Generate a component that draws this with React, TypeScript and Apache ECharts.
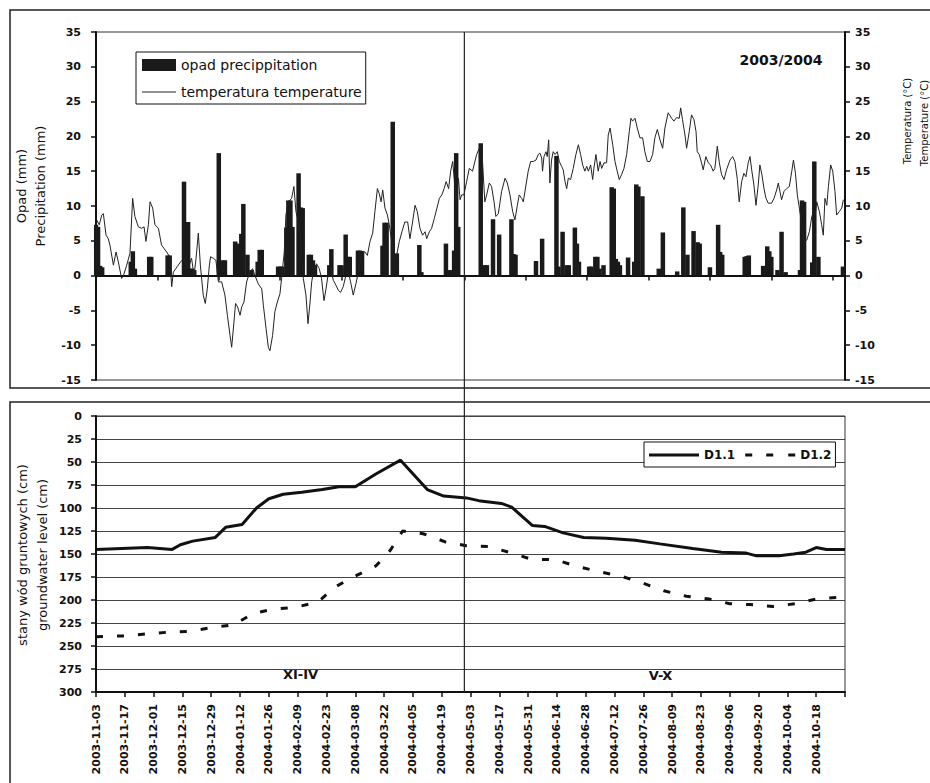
import React, { useEffect, useRef } from 'react';
import * as echarts from 'echarts';

// ---------- Top panel: days counted from 2003-11-01 ----------
const tempDay = [
  0.3, 1.6, 2.8, 3.6, 4.9, 6.0, 6.8, 8.5, 9.8, 10.9, 12.5, 13.4, 15.0, 16.6, 17.9, 19.0, 20.7, 22.3, 23.5, 24.4,
  25.6, 26.4, 27.7, 28.8, 30.5, 32.0, 34.5, 36.0, 37.0, 37.8, 39.7, 41.4, 43.0, 45.0, 46.7, 47.9, 48.9, 50.0, 51.0, 52.4,
  53.4, 54.4, 55.4, 56.0, 57.3, 58.6, 59.8, 61.4, 63.0, 64.2, 65.5, 66.3, 67.4, 68.2, 69.2, 70.4, 71.2, 72.3, 73.6, 75.2,
  76.5, 77.7, 79.3, 81.0, 81.8, 83.1, 84.2, 85.0, 86.3, 87.4, 88.6, 89.9, 91.0, 92.0, 92.8, 94.0, 95.6, 96.7, 97.7, 98.9,
  100.0, 101.3, 102.6, 103.6, 104.6, 105.4, 106.5, 107.8, 109.1, 110.2, 111.4, 112.4, 113.5, 114.7, 116.0, 117.3, 118.4, 119.5, 120.8, 122.1,
  123.3, 124.4, 125.7, 127.0, 128.2, 129.8, 131.4, 132.6, 133.9, 135.2, 136.3, 137.5, 138.4, 139.3, 140.1, 141.2, 142.4, 143.3, 144.5, 145.6,
  146.9, 148.2, 149.5, 150.9, 152.3, 153.4, 154.7, 155.9, 157.0, 158.3, 159.6, 160.8, 161.6, 162.9, 164.0, 165.3, 166.6, 167.8, 169.0, 170.1,
  171.1, 172.3, 173.3, 174.3, 175.0, 175.9, 177.1, 177.9, 178.7, 179.8, 181.1, 182.4, 184.0, 186.0, 187.3, 188.4, 190.0, 190.9, 192.2, 193.3,
  194.5, 195.4, 196.6, 198.2, 199.9, 201.0, 202.3, 203.6, 204.7, 205.9, 206.8, 208.0, 208.8, 210.1, 211.2, 212.4, 213.7, 215.0, 216.1, 216.9,
  217.8, 218.2, 218.9, 219.9, 220.5, 221.2, 221.8, 222.6, 223.4, 224.3, 225.4, 226.4, 227.5, 228.3, 229.2, 230.0, 230.8, 231.9, 233.2, 234.5,
  235.7, 236.8, 237.8, 238.9, 239.8, 240.6, 241.7, 242.7, 243.3, 244.3, 245.4, 246.3, 247.1, 248.2, 249.5, 250.3, 251.2, 252.5, 253.6, 254.7,
  255.7, 256.8, 258.0, 259.3, 260.6, 261.4, 262.2, 263.4, 264.5, 265.8, 267.1, 268.2, 269.4, 270.7, 272.0, 273.1, 274.3, 275.6, 276.9, 278.0,
  279.6, 281.3, 282.4, 283.7, 285.0, 285.7, 286.6, 287.8, 288.6, 289.9, 291.0, 292.2, 293.2, 293.8, 294.8, 295.9, 296.7, 298.0, 299.2, 300.3,
  301.6, 302.4, 303.6, 304.6, 305.7, 306.9, 308.1, 309.8, 311.1, 312.2, 313.4, 314.3, 315.5, 316.6, 317.6, 318.7, 319.6, 320.4, 321.5, 322.5,
  323.6, 324.4, 325.4, 326.4, 327.4, 328.5, 330.1, 331.3, 332.6, 333.4, 334.2, 335.0, 336.2, 337.5, 338.8, 340.0, 340.8, 341.8, 342.7, 343.7,
  344.9, 346.0, 347.3, 348.6, 349.8, 350.6, 351.4, 352.2, 353.5, 354.6, 355.4, 356.2, 357.1, 357.9, 359.0, 360.0, 361.1, 361.9, 363.2, 364.4,
  365.2,
];
const tempC = [
  8.0, 7.3, 8.7, 8.9, 5.8, 5.3, 4.4, 1.5, 3.4, 2.0, -0.4, 0, 1.5, 3.2, 11.1, 8.5, 7.0, 6.8, 7.0, 4.9,
  7.3, 10.6, 9.7, 7.3, 6.8, 4.4, 3.4, 2.7, -1.6, 0.5, 1.3, 2.0, 2.5, 1.0, 2.5, 0, 2.5, 6.1, 1.5, -2.8,
  -4.0, -1.9, 1.5, 2.7, 2.5, 2.2, -0.9, -0.9, -2.8, -5.7, -8.6, -10.3, -6.7, -4.0, -4.5, -5.7, -4.5, -3.8, -0.9, 0.5,
  1.0, 0, -1.2, -1.9, -4.3, -7.6, -10.3, -10.8, -8.6, -5.2, -3.8, -2.6, 0.5, 3.4, 8.7, 10.6, 11.1, 12.8, 9.2, 7.7,
  4.9, -0.4, -2.8, -6.9, -3.8, -0.9, 1.0, 1.7, 1.0, -0.4, -3.6, -1.9, 0.3, 1.0, -0.7, -1.4, -2.1, -2.4, -1.6, 0,
  0.5, -0.9, -2.8, -1.2, 0.5, 3.4, 3.4, 2.9, 4.9, 6.1, 9.2, 12.5, 11.8, 10.6, 12.3, 9.7, 8.7, 7.3, 4.9, 2.5,
  2.9, 4.9, 6.3, 7.7, 7.7, 5.3, 7.7, 10.1, 9.2, 6.8, 5.8, 6.3, 5.3, 6.3, 6.8, 8.2, 9.7, 11.1, 11.6, 12.5,
  13.5, 12.5, 15.0, 16.4, 14.0, 10.6, 14.0, 10.9, 11.6, 11.6, 13.5, 15.4, 15.0, 17.4, 18.3, 18.8, 10.6, 11.6, 13.3, 12.8,
  10.6, 8.5, 8.9, 12.1, 14.0, 13.3, 11.6, 9.2, 8.0, 10.1, 11.6, 11.1, 10.6, 13.0, 15.0, 16.4, 16.4, 16.6, 17.4, 17.6,
  16.9, 15.0, 17.1, 17.8, 17.1, 19.5, 13.3, 16.6, 17.8, 17.4, 17.8, 16.4, 15.7, 15.2, 13.5, 12.5, 14.0, 13.8, 15.4, 17.4,
  18.8, 17.4, 15.9, 15.0, 15.7, 15.0, 15.9, 13.8, 15.4, 17.4, 15.0, 16.4, 15.4, 16.2, 16.2, 20.2, 21.2, 18.8, 16.4, 15.0,
  13.8, 14.5, 15.4, 17.4, 20.7, 22.6, 22.2, 22.6, 21.2, 19.8, 19.8, 17.8, 16.4, 16.4, 17.4, 19.8, 21.0, 19.5, 18.3, 21.2,
  23.4, 22.6, 22.2, 22.7, 22.6, 24.1, 22.4, 20.2, 18.3, 20.7, 23.1, 22.4, 20.7, 17.8, 17.4, 16.2, 15.2, 17.1, 16.2, 15.9,
  15.0, 15.4, 18.6, 16.2, 14.5, 13.8, 15.2, 16.6, 17.1, 16.4, 13.8, 10.6, 13.5, 14.7, 14.2, 16.2, 17.1, 15.2, 13.0, 10.1,
  13.0, 15.9, 14.5, 12.5, 11.1, 10.4, 10.4, 11.1, 12.3, 13.3, 12.1, 10.9, 12.1, 12.5, 12.8, 15.0, 16.6, 14.7, 11.6, 9.7,
  7.3, 4.9, 5.1, 6.3, 8.5, 9.2, 8.7, 10.6, 9.2, 7.3, 5.8, 11.1, 10.1, 12.8, 15.9, 15.0, 12.1, 8.7, 9.2, 9.7,
  10.9,
];
const rainDay = [
  0, 1, 2, 3, 17, 18, 19, 26, 27, 35, 36, 43, 45, 46, 47, 48, 60, 62, 63, 68,
  69, 70, 71, 72, 74, 76, 79, 80, 81, 89, 90, 91, 93, 94, 95, 96, 99, 100, 101, 104,
  105, 106, 107, 114, 115, 119, 120, 122, 123, 124, 128, 129, 130, 140, 141, 142, 145, 147, 158, 159,
  171, 173, 175, 176, 177, 188, 189, 190, 191, 194, 197, 203, 204, 205, 215, 218, 225, 226, 228, 230,
  231, 234, 235, 236, 241, 242, 244, 245, 246, 248, 252, 253, 254, 255, 256, 260, 263, 264, 265, 267,
  275, 277, 284, 287, 289, 292, 294, 295, 300, 304, 305, 306, 317, 318, 319, 326, 328, 329, 330, 333,
  335, 337, 344, 345, 346, 350, 351, 353, 365,
];
const rainMm = [
  7.3, 7.0, 1.4, 1.2, 2.0, 3.5, 1.0, 2.7, 2.7, 2.9, 2.9, 13.5, 7.7, 1.0, 1.0, 0.8, 17.6, 2.2, 2.2, 4.9,
  4.6, 4.5, 6.0, 10.3, 3.0, 0.8, 2.0, 3.7, 3.7, 1.3, 1.3, 1.3, 6.9, 10.8, 10.8, 7.0, 14.7, 9.8, 9.7, 3.0,
  3.0, 2.2, 1.5, 1.5, 3.8, 1.5, 1.5, 5.9, 2.7, 2.7, 3.6, 3.6, 3.5, 4.3, 7.6, 7.6, 22.1, 3.2, 4.4, 0.5,
  4.6, 0.8, 3.6, 17.6, 7.0, 19.0, 1.4, 1.5, 1.5, 8.1, 5.9, 8.1, 3.1, 3.0, 2.1, 5.3, 17.2, 1.3, 6.3, 1.5,
  1.5, 6.9, 4.6, 2.0, 1.3, 1.3, 2.7, 2.7, 1.0, 1.5, 12.7, 12.5, 2.4, 2.0, 1.5, 2.6, 2.0, 13.1, 12.8, 11.4,
  1.0, 6.2, 0.6, 9.8, 3.0, 6.4, 4.8, 4.6, 1.2, 7.3, 3.4, 3.0, 2.7, 2.8, 2.9, 1.4, 4.2, 3.5, 2.7, 0.8,
  6.3, 0.5, 0.8, 10.8, 10.6, 1.9, 16.4, 2.7, 1.3,
];

// ---------- Bottom panel: groundwater levels ----------
const d11Dates = [
  '2003-11-03', '2003-11-28', '2003-12-10', '2003-12-14', '2003-12-20', '2003-12-31', '2004-01-05', '2004-01-13',
  '2004-01-20', '2004-01-26', '2004-02-02', '2004-02-11', '2004-02-21', '2004-02-29', '2004-03-08', '2004-03-18',
  '2004-03-30', '2004-04-12', '2004-04-20', '2004-05-01', '2004-05-07', '2004-05-18', '2004-05-23', '2004-06-02',
  '2004-06-08', '2004-06-17', '2004-06-27', '2004-07-08', '2004-07-22', '2004-08-03', '2004-08-19', '2004-09-02',
  '2004-09-14', '2004-09-19', '2004-09-30', '2004-10-07', '2004-10-13', '2004-10-18', '2004-10-23', '2004-11-01',
];
const d11Cm = [
  145, 143, 145, 140, 136, 132, 121, 118, 100, 90, 85, 83, 80, 77, 77, 63,
  48, 80, 87, 89, 92, 95, 99, 119, 120, 127, 132, 133, 135, 139, 144, 148,
  149, 152, 152, 150, 148, 143, 145, 145,
];
const d12Dates = [
  '2003-11-03', '2003-11-16', '2003-11-27', '2003-12-08', '2003-12-19', '2003-12-29', '2004-01-09', '2004-01-18',
  '2004-01-28', '2004-02-08', '2004-02-19', '2004-02-27', '2004-03-08', '2004-03-18', '2004-03-25', '2004-03-31',
  '2004-04-10', '2004-04-21', '2004-05-01', '2004-05-12', '2004-05-23', '2004-06-02', '2004-06-13', '2004-06-23',
  '2004-07-04', '2004-07-15', '2004-07-25', '2004-08-05', '2004-08-16', '2004-08-27', '2004-09-06', '2004-09-16',
  '2004-09-27', '2004-10-08', '2004-10-18', '2004-10-29', '2004-11-01',
];
const d12Cm = [
  240, 239, 237, 235, 234, 230, 227, 215, 210, 208, 202, 186, 174, 163, 146, 125,
  128, 137, 141, 142, 149, 156, 156, 163, 169, 174, 181, 190, 196, 199, 204, 205,
  207, 204, 199, 197, 197,
];
const groundTickLabels = [
  '2003-11-03', '2003-11-17', '2003-12-01', '2003-12-15', '2003-12-29', '2004-01-12', '2004-01-26',
  '2004-02-09', '2004-02-23', '2004-03-08', '2004-03-22', '2004-04-05', '2004-04-19', '2004-05-03',
  '2004-05-17', '2004-05-31', '2004-06-14', '2004-06-28', '2004-07-12', '2004-07-26', '2004-08-09',
  '2004-08-23', '2004-09-06', '2004-09-20', '2004-10-04', '2004-10-18',
];

const FONT = 'DejaVu Sans';
const INK = '#111';

function daysSince(start: string, d: string): number {
  const [y1, m1, a1] = start.split('-').map(Number);
  const [y2, m2, a2] = d.split('-').map(Number);
  return Math.round((Date.UTC(y2, m2 - 1, a2) - Date.UTC(y1, m1 - 1, a1)) / 86400000);
}

export default function App() {
  const ref = useRef<HTMLDivElement>(null);

  useEffect(() => {
    if (!ref.current) return;
    const chart = echarts.init(ref.current, undefined, { renderer: 'svg' });

    const tickLabel = { color: INK, fontFamily: FONT, fontWeight: 'bold' as const, fontSize: 11 };
    const boldLine = { show: true, onZero: false, lineStyle: { color: INK, width: 2 } };

    const option: any = {
      animation: false,
      backgroundColor: '#fff',
      grid: [
        { left: 96, top: 32, width: 749, height: 348, show: true, borderColor: '#333', borderWidth: 1, containLabel: false },
        { left: 96, top: 416, width: 749, height: 276, show: true, borderColor: '#333', borderWidth: 1, containLabel: false },
      ],
      legend: [
        {
          data: [
            { name: 'opad precippitation', icon: 'rect' },
            { name: 'temperatura temperature', icon: 'path://M0,0h34v1h-34z' },
          ],
          orient: 'vertical',
          left: 136,
          top: 52,
          padding: [6, 4, 5, 6],
          itemGap: 13,
          itemWidth: 34,
          itemHeight: 12,
          borderColor: INK,
          borderWidth: 1,
          backgroundColor: '#fff',
          textStyle: { color: INK, fontFamily: FONT, fontSize: 14 },
        },
        {
          data: [
            { name: 'D1.1', icon: 'path://M0,0h50v3h-50z' },
            { name: 'D1.2', icon: 'path://M0,0h7v3h-7zM21,0h7v3h-7zM43,0h7v3h-7z' },
          ],
          orient: 'horizontal',
          left: 644,
          top: 442,
          padding: [7, 4, 6, 5],
          itemGap: 10,
          itemWidth: 50,
          itemHeight: 12,
          borderColor: INK,
          borderWidth: 1,
          backgroundColor: '#fff',
          textStyle: { color: INK, fontFamily: FONT, fontSize: 12, fontWeight: 'bold' },
        },
      ],
      xAxis: [
        {
          type: 'value',
          gridIndex: 0,
          min: 0,
          max: 366,
          interval: 30,
          axisLine: { show: true, onZero: true, onZeroAxisIndex: 0, lineStyle: { color: INK, width: 2 } },
          axisTick: { show: true, length: 5, lineStyle: { color: INK, width: 1.5 } },
          axisLabel: { show: false },
          splitLine: { show: false },
        },
        {
          type: 'value',
          gridIndex: 1,
          min: 0,
          max: 364,
          interval: 14,
          axisLine: boldLine,
          axisTick: { show: true, length: 5, lineStyle: { color: INK, width: 1.5 } },
          axisLabel: {
            ...tickLabel,
            rotate: 90,
            margin: 12,
            formatter: (v: number) => groundTickLabels[Math.round(v / 14)] ?? '',
          },
          splitLine: { show: false },
        },
      ],
      yAxis: [
        {
          type: 'value',
          gridIndex: 0,
          min: -15,
          max: 35,
          interval: 5,
          axisLine: boldLine,
          axisTick: { show: true, length: 5, lineStyle: { color: INK, width: 1.5 } },
          axisLabel: { ...tickLabel, margin: 15 },
          splitLine: { show: false },
        },
        {
          type: 'value',
          gridIndex: 0,
          position: 'right',
          min: -15,
          max: 35,
          interval: 5,
          axisLine: boldLine,
          axisTick: { show: true, length: 5, lineStyle: { color: INK, width: 1.5 } },
          axisLabel: { ...tickLabel, margin: 10 },
          splitLine: { show: false },
        },
        {
          type: 'value',
          gridIndex: 1,
          inverse: true,
          min: 0,
          max: 300,
          interval: 25,
          axisLine: boldLine,
          axisTick: { show: true, length: 5, lineStyle: { color: INK, width: 1.5 } },
          axisLabel: { ...tickLabel, margin: 14 },
          splitLine: { show: true, lineStyle: { color: '#444', width: 1 } },
        },
      ],
      series: [
        {
          name: 'opad precippitation',
          type: 'bar',
          xAxisIndex: 0,
          yAxisIndex: 0,
          barWidth: 4.5,
          itemStyle: { color: '#1a1a1a' },
          data: rainDay.map((d, i) => [d, rainMm[i]]),
        },
        {
          name: 'temperatura temperature',
          type: 'line',
          xAxisIndex: 0,
          yAxisIndex: 1,
          symbol: 'none',
          lineStyle: { color: '#222', width: 1 },
          itemStyle: { color: '#222' },
          data: tempDay.map((d, i) => [d, tempC[i]]),
        },
        {
          name: 'D1.1',
          type: 'line',
          xAxisIndex: 1,
          yAxisIndex: 2,
          symbol: 'none',
          lineStyle: { color: INK, width: 3 },
          itemStyle: { color: INK },
          data: d11Dates.map((d, i) => [daysSince('2003-11-03', d), d11Cm[i]]),
        },
        {
          name: 'D1.2',
          type: 'line',
          xAxisIndex: 1,
          yAxisIndex: 2,
          symbol: 'none',
          lineStyle: { color: INK, width: 3, type: [7, 14] },
          itemStyle: { color: INK },
          data: d12Dates.map((d, i) => [daysSince('2003-11-03', d), d12Cm[i]]),
        },
      ],
    };
    chart.setOption(option);

    const divX = chart.convertToPixel({ xAxisIndex: 0 }, 180) as number;
    const topY = chart.convertToPixel({ yAxisIndex: 0 }, 35) as number;
    const botY = chart.convertToPixel({ yAxisIndex: 2 }, 300) as number;

    const txt = (text: string, x: number, y: number, size: number, bold: boolean, rot = 0) => ({
      type: 'text',
      x,
      y,
      rotation: rot,
      z: 10,
      style: {
        text,
        fill: INK,
        font: `${bold ? 'bold ' : ''}${size}px "${FONT}"`,
        align: 'center',
        verticalAlign: 'middle',
      },
    });

    chart.setOption({
      graphic: {
        elements: [
          { type: 'rect', shape: { x: 10, y: 10, width: 940, height: 378 }, style: { fill: 'none', stroke: '#222', lineWidth: 1.5 }, z: 0 },
          { type: 'rect', shape: { x: 10, y: 402, width: 940, height: 420 }, style: { fill: 'none', stroke: '#222', lineWidth: 1.5 }, z: 0 },
          { type: 'line', shape: { x1: divX, y1: topY, x2: divX, y2: botY }, style: { stroke: '#222', lineWidth: 1.2 }, z: 5 },
          txt('2003/2004', 781, 59.5, 14, true),
          txt('XI-IV', 300.5, 674, 13, true),
          txt('V-X', 660.5, 675, 13, true),
          txt('Opad (mm)', 21, 186, 13, false, Math.PI / 2),
          txt('Precipitation (mm)', 40.5, 186, 13, false, Math.PI / 2),
          txt('Temperatura (°C)', 907.5, 121, 10, false, Math.PI / 2),
          txt('Temperature (°C)', 924, 123, 10, false, Math.PI / 2),
          txt('stany wód gruntowych (cm)', 22, 555, 13, false, Math.PI / 2),
          txt('groundwater level (cm)', 42, 555, 13, false, Math.PI / 2),
        ],
      },
    });

    return () => chart.dispose();
  }, []);

  return <div ref={ref} style={{ position: 'absolute', left: 0, top: 0, width: 930, height: 783 }} />;
}
